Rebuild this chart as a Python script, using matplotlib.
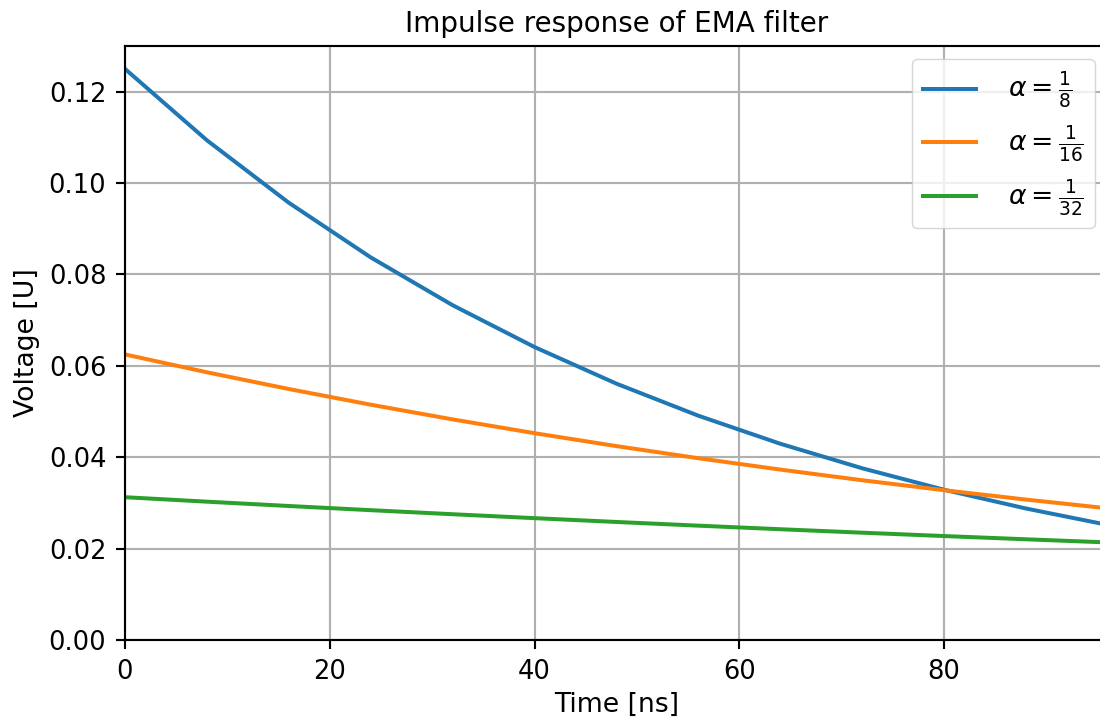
import matplotlib
matplotlib.use("Agg")
import matplotlib.pyplot as plt

# samples every 8 ns
t_ns = [0, 8, 16, 24, 32, 40, 48, 56, 64, 72, 80, 88, 96]

ema_8 = [0.125, 0.109375, 0.095703, 0.083740, 0.073273, 0.064114, 0.056100,
         0.049087, 0.042951, 0.037582, 0.032884, 0.028774, 0.025177]
ema_16 = [0.0625, 0.058594, 0.054932, 0.051498, 0.048280, 0.045262, 0.042433,
          0.039781, 0.037295, 0.034964, 0.032779, 0.030730, 0.028809]
ema_32 = [0.03125, 0.030273, 0.029327, 0.028411, 0.027523, 0.026663, 0.025830,
          0.025022, 0.024240, 0.023483, 0.022749, 0.022038, 0.021349]

labels = [r'$\alpha = \frac{1}{8}$', r'$\alpha = \frac{1}{16}$', r'$\alpha = \frac{1}{32}$']

s = 1.92  # scale factor for line widths / fonts
plt.rcParams.update({
    'font.size': 10 * s,
    'axes.linewidth': 0.8 * s,
    'grid.linewidth': 0.8 * s,
    'lines.linewidth': 1.5 * s,
    'xtick.major.size': 3.5 * s,
    'ytick.major.size': 3.5 * s,
    'xtick.major.width': 0.8 * s,
    'ytick.major.width': 0.8 * s,
    'xtick.major.pad': 3.5 * s,
    'ytick.major.pad': 3.5 * s,
    'xtick.labelsize': 18.5,
    'ytick.labelsize': 18.5,
    'legend.fontsize': 10 * s,
})

fig = plt.figure(figsize=(11, 7.19), dpi=100)
ax = fig.add_axes([0.1136, 0.1099, 0.8936, 0.8261])

ax.plot(t_ns, ema_8, label=labels[0])
ax.plot(t_ns, ema_16, label=labels[1])
ax.plot(t_ns, ema_32, label=labels[2])

ax.set_xlim(0, 96)
ax.set_ylim(0, 0.13)
ax.set_xticks([0, 20, 40, 60, 80])
ax.set_title('Impulse response of EMA filter', fontsize=20, pad=10)
ax.set_xlabel('Time [ns]', labelpad=5.5)
ax.set_ylabel('Voltage [U]', labelpad=6)
ax.grid(True)
ax.legend(loc='upper right', handletextpad=1.2)

fig.savefig('out.png', dpi=100)
